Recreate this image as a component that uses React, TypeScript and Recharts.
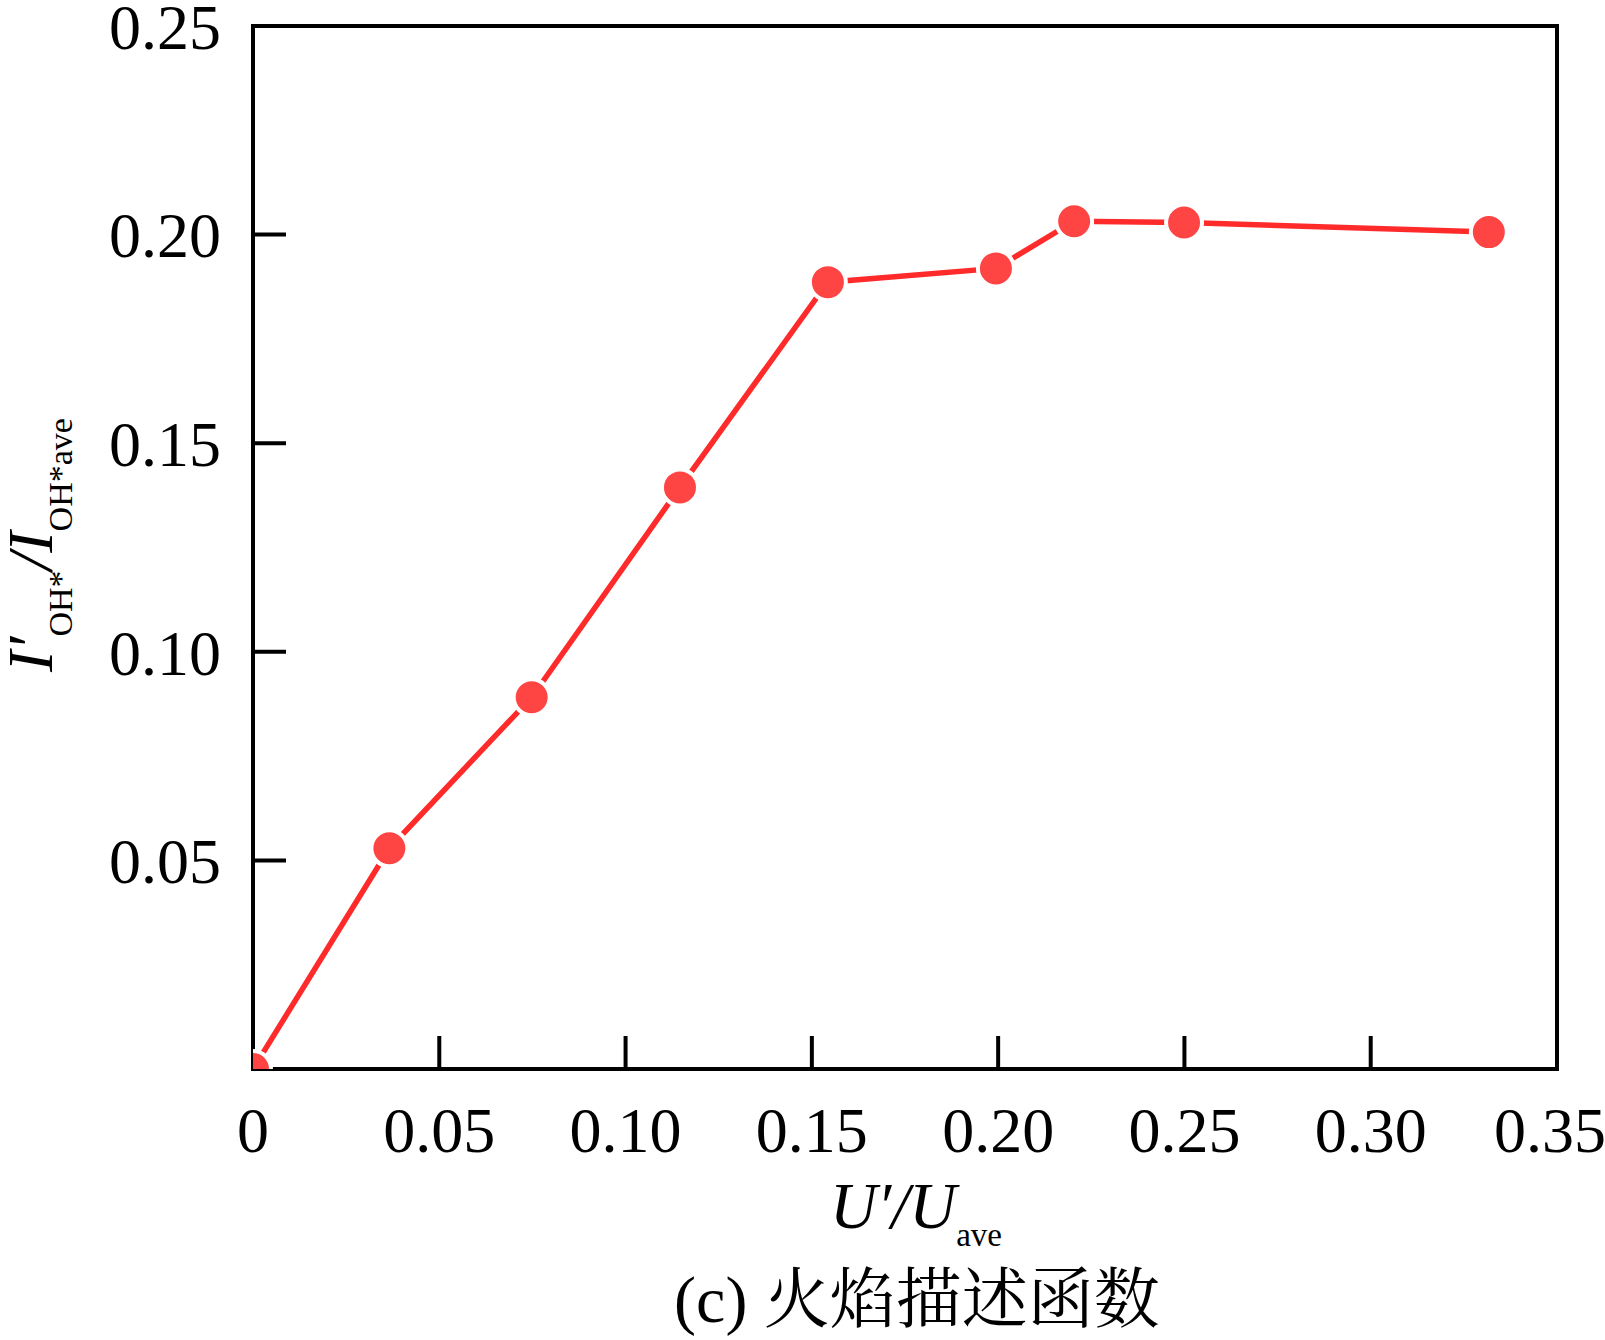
import React from 'react';
import { LineChart, Line, XAxis, YAxis, ReferenceArea } from 'recharts';

// U'/U_ave
const uRatio = [0, 0.0366, 0.0748, 0.1146, 0.1543, 0.1994, 0.2204, 0.2499, 0.3317];
// I'_OH* / I_OH*ave
const ohIntensity = [0, 0.0529, 0.0891, 0.1394, 0.1886, 0.1919, 0.2032, 0.2029, 0.2006];

const xTicks = [0, 0.05, 0.1, 0.15, 0.2, 0.25, 0.3, 0.35];
const xTickLabels = ['0', '0.05', '0.10', '0.15', '0.20', '0.25', '0.30', '0.35'];
const yTicks = [0.05, 0.1, 0.15, 0.2, 0.25];
const yTickLabels = ['0.05', '0.10', '0.15', '0.20', '0.25'];

const data = uRatio.map((x, i) => ({ x, y: ohIntensity[i] }));

const SERIF = '"Liberation Serif", "Times New Roman", serif';
const CJK = '"Liberation Serif", "Noto Serif CJK SC", "Noto Sans CJK SC", serif';

const XTick = (props: any) => {
  const { x, y, payload, index } = props;
  const i = xTicks.indexOf(payload.value);
  const shift = index === xTicks.length - 1 ? -7 : 0;
  return (
    <text x={x + shift} y={y} dy="0.71em" textAnchor="middle" fontSize={64} fontFamily={SERIF} fill="#000">
      {xTickLabels[i] ?? payload.value}
    </text>
  );
};

const YTick = (props: any) => {
  const { x, y, payload } = props;
  const i = yTicks.indexOf(payload.value);
  return (
    <text x={x} y={y} dy="0.355em" textAnchor="end" fontSize={64} fontFamily={SERIF} fill="#000">
      {yTickLabels[i] ?? payload.value}
    </text>
  );
};

const YTitle = () => (
  <text transform="rotate(-90)" x={-545} y={52} textAnchor="middle" fontFamily={SERIF} fill="#000" fontSize={64}>
    <tspan fontStyle="italic">I′</tspan>
    <tspan fontSize={34} dy={20}>OH*</tspan>
    <tspan fontStyle="italic" dy={-20}>/I</tspan>
    <tspan fontSize={34} dy={20}>OH*ave</tspan>
  </text>
);

const XTitle = () => (
  <g>
    <text x={916} y={1228} textAnchor="middle" fontFamily={SERIF} fill="#000" fontSize={65}>
      <tspan fontStyle="italic">U′/U</tspan>
      <tspan fontSize={33} dy={18}>ave</tspan>
    </text>
    <text x={917} y={1322} textAnchor="middle" fontFamily={CJK} fill="#000" fontSize={66}>
      (c) 火焰描述函数
    </text>
  </g>
);

export default function App() {
  return (
    <div style={{ position: 'absolute', left: 0, top: 0, width: 1605, height: 1340, background: '#fff' }}>
      <LineChart width={1605} height={1340} data={data} margin={{ top: 26, right: 48, bottom: 0, left: 0 }}>
        <XAxis
          dataKey="x"
          type="number"
          domain={[0, 0.35]}
          ticks={xTicks}
          interval={0}
          allowDataOverflow
          height={271}
          axisLine={{ stroke: '#000', strokeWidth: 4 }}
          tickLine={{ stroke: '#000', strokeWidth: 4 }}
          tickSize={-33}
          tickMargin={71}
          tick={XTick}
          label={<XTitle />}
        />
        <YAxis
          type="number"
          domain={[0, 0.25]}
          ticks={yTicks}
          interval={0}
          allowDataOverflow
          width={253}
          axisLine={{ stroke: '#000', strokeWidth: 4 }}
          tickLine={{ stroke: '#000', strokeWidth: 4 }}
          tickSize={-33}
          tickMargin={65}
          tick={YTick}
          label={<YTitle />}
        />
        <ReferenceArea x1={0} x2={0.35} y1={0} y2={0.25} fill="none" stroke="#000" strokeWidth={4} />
        <Line
          type="linear"
          dataKey="y"
          stroke="#FF2A2A"
          strokeWidth={5.5}
          dot={{ r: 18, fill: '#FF4444', stroke: '#fff', strokeWidth: 4 }}
          activeDot={false}
          isAnimationActive={false}
        />
      </LineChart>
    </div>
  );
}
